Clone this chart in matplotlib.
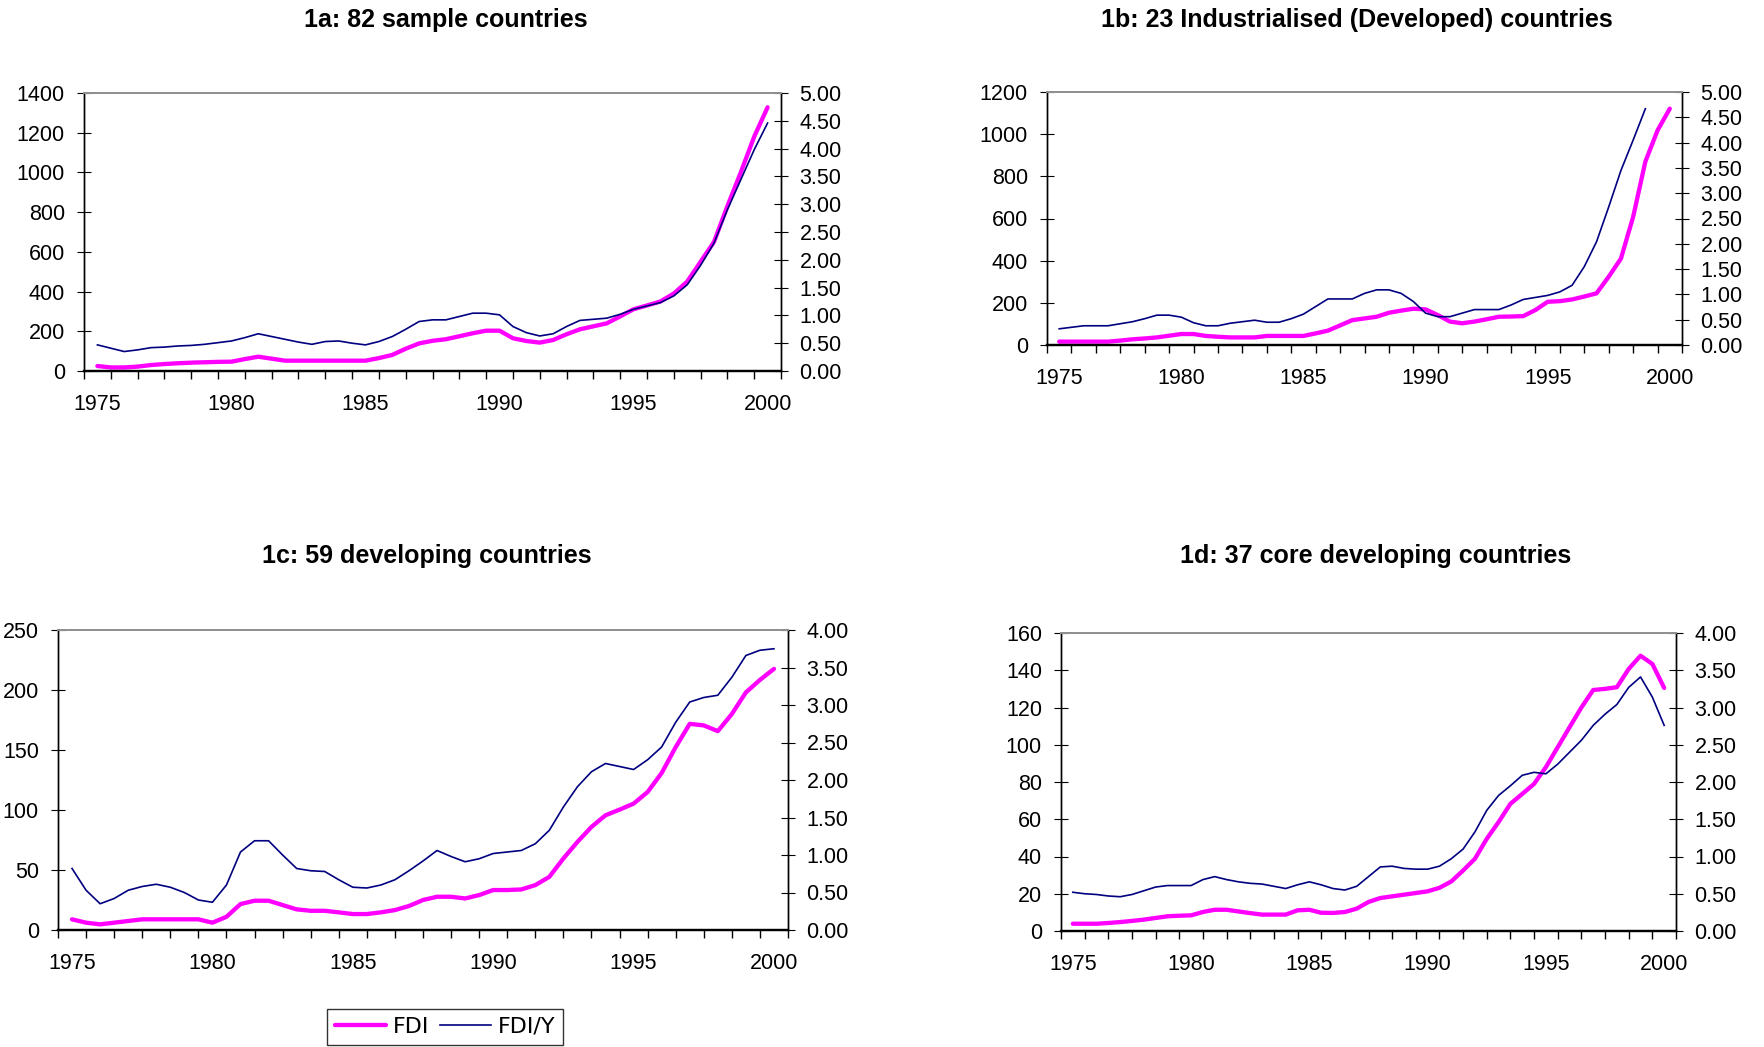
import numpy as np
import matplotlib
matplotlib.use("Agg")
import matplotlib.pyplot as plt

plt.rcParams['font.family'] = ['Liberation Sans', 'DejaVu Sans']

# half-year sample points, 1975 .. 2000
years = np.arange(1975, 2000.01, 0.5)

fdi_1a = [25, 18, 18, 22, 30, 35, 39, 42, 44, 46, 47, 60, 72, 62, 52, 52, 52, 52, 52, 52,
          52, 65, 81, 112, 139, 152, 160, 175, 190, 203, 203, 165, 151, 143, 156, 185, 210,
          225, 240, 275, 311, 330, 350, 390, 450, 550, 650, 830, 1000, 1180, 1328]
fdiy_1a = [0.47, 0.41, 0.35, 0.38, 0.42, 0.43, 0.45, 0.46, 0.48, 0.51, 0.54, 0.60, 0.67,
           0.62, 0.57, 0.52, 0.48, 0.53, 0.54, 0.50, 0.47, 0.53, 0.62, 0.75, 0.89, 0.92,
           0.92, 0.98, 1.04, 1.04, 1.01, 0.80, 0.69, 0.63, 0.67, 0.80, 0.91, 0.93, 0.95,
           1.02, 1.11, 1.17, 1.23, 1.35, 1.55, 1.90, 2.30, 2.90, 3.44, 3.98, 4.46]

fdi_1b = [16, 16, 16, 16, 16, 21, 27, 31, 36, 44, 52, 52, 43, 39, 36, 36, 36, 43, 43, 43,
          43, 55, 68, 93, 118, 126, 134, 153, 163, 172, 169, 142, 111, 103, 111, 122, 134,
          135, 137, 166, 205, 208, 216, 230, 245, 324, 410, 608, 870, 1018, 1121]
fdiy_1b = [0.32, 0.35, 0.38, 0.38, 0.38, 0.42, 0.46, 0.52, 0.59, 0.59, 0.55, 0.44, 0.38,
           0.38, 0.43, 0.46, 0.49, 0.45, 0.45, 0.52, 0.61, 0.76, 0.91, 0.91, 0.91, 1.02,
           1.09, 1.09, 1.02, 0.86, 0.63, 0.56, 0.56, 0.63, 0.70, 0.70, 0.70, 0.79, 0.90,
           0.94, 0.98, 1.05, 1.18, 1.55, 2.04, 2.73, 3.45, 4.05, 4.67, np.nan, np.nan]

fdi_1c = [8.9, 6.1, 4.7, 6.1, 7.5, 8.9, 8.9, 8.9, 8.9, 8.9, 6.1, 11, 21.6, 24.4, 24.4, 20.8,
          17.2, 16, 16, 14.7, 13.3, 13.3, 14.7, 16.6, 20, 25, 27.7, 27.7, 26.3, 29.1, 33.3,
          33.3, 33.8, 37.4, 44.3, 59.6, 73.4, 85.9, 95.6, 100.3, 105.3, 115, 130.8, 152.4,
          171.8, 170.5, 165.7, 180, 198, 208.4, 217.6]
fdiy_1c = [0.82, 0.53, 0.35, 0.42, 0.53, 0.58, 0.61, 0.57, 0.50, 0.40, 0.37, 0.60, 1.04,
           1.19, 1.19, 1.00, 0.82, 0.79, 0.78, 0.67, 0.57, 0.56, 0.60, 0.67, 0.79, 0.92,
           1.06, 0.98, 0.91, 0.95, 1.02, 1.04, 1.06, 1.15, 1.33, 1.64, 1.91, 2.11, 2.22,
           2.18, 2.14, 2.27, 2.44, 2.77, 3.04, 3.10, 3.13, 3.37, 3.66, 3.73, 3.75]

fdi_1d = [3.9, 3.9, 3.9, 4.3, 4.8, 5.4, 6.1, 7.0, 7.9, 8.2, 8.4, 10.2, 11.4, 11.4, 10.5, 9.6,
          8.8, 8.8, 8.8, 11.1, 11.4, 9.8, 9.7, 10.2, 12.0, 15.6, 17.7, 18.6, 19.5, 20.4, 21.3,
          23.2, 26.6, 32.5, 38.8, 49.5, 58.5, 68.3, 73.6, 79, 88, 98.7, 109.4, 120, 129.4,
          130, 130.9, 140.7, 147.8, 143.4, 130.5]
fdiy_1d = [0.52, 0.50, 0.49, 0.47, 0.46, 0.49, 0.54, 0.59, 0.61, 0.61, 0.61, 0.69, 0.73,
           0.69, 0.66, 0.64, 0.63, 0.60, 0.57, 0.62, 0.66, 0.62, 0.57, 0.55, 0.60, 0.73,
           0.86, 0.87, 0.84, 0.83, 0.83, 0.87, 0.97, 1.10, 1.33, 1.62, 1.82, 1.95, 2.09,
           2.13, 2.11, 2.24, 2.40, 2.56, 2.76, 2.91, 3.04, 3.27, 3.41, 3.14, 2.76]

titles = ["1a: 82 sample countries", "1b: 23 Industrialised (Developed) countries",
          "1c: 59 developing countries", "1d: 37 core developing countries"]
year_labels = [1975, 1980, 1985, 1990, 1995, 2000]

W, H = 1765, 1047
fig = plt.figure(figsize=(W / 100, H / 100), dpi=100)

# panel boxes in pixels: left, right, top, bottom
boxes = [(84, 781, 93, 371), (1047, 1682, 92, 345), (58, 788, 630, 930), (1061, 1676, 633, 931)]
title_pos = [(446, 20), (1357, 20), (427, 556), (1376, 556)]
left_max = [1400, 1200, 250, 160]
left_step = [200, 200, 50, 20]
right_max = [5.0, 5.0, 4.0, 4.0]
series = [(fdi_1a, fdiy_1a), (fdi_1b, fdiy_1b), (fdi_1c, fdiy_1c), (fdi_1d, fdiy_1d)]

for i in range(4):
    l, r, t, b = boxes[i]
    ax = fig.add_axes([l / W, 1 - b / H, (r - l) / W, (b - t) / H])
    ax2 = ax.twinx()
    fdi, fdiy = series[i]
    line1, = ax.plot(years, fdi, color='#FF00FF', linewidth=3.1, solid_capstyle='round')
    line2, = ax2.plot(years, fdiy, color='#000080', linewidth=1.2)

    ax.set_xlim(1974.5, 2000.5)
    ax.set_ylim(0, left_max[i])
    ax.set_yticks(np.arange(0, left_max[i] + 1, left_step[i]))
    rt = np.arange(0, right_max[i] + 0.01, 0.5)
    ax2.set_ylim(0, right_max[i])
    ax2.set_yticks(rt)
    ax2.set_yticklabels([f"{v:.2f}" for v in rt])

    ax.set_xticks(year_labels)
    ax.set_xticks(np.arange(1974.5, 2000.6, 1), minor=True)
    ax.tick_params(axis='x', which='major', length=0, pad=16.5, labelsize=15.5)
    ax.tick_params(axis='x', which='minor', length=5.5, direction='out', width=1)
    ax.tick_params(axis='y', length=10.5, direction='inout', labelsize=15.5, pad=8.5)
    ax2.tick_params(axis='y', length=10.5, direction='inout', labelsize=15.5, pad=8)

    for a in (ax, ax2):
        a.spines['top'].set_color('#909090')
        a.spines['top'].set_linewidth(1.4)
        a.spines['left'].set_linewidth(1.0)
        a.spines['right'].set_linewidth(1.0)
        a.spines['bottom'].set_linewidth(1.6)

    fig.text(title_pos[i][0] / W, 1 - title_pos[i][1] / H, titles[i], ha='center', va='center',
             fontsize=18, fontweight='bold')

leg = fig.legend([line1, line2], ['FDI', 'FDI/Y'], loc='upper left',
                 bbox_to_anchor=(327 / W, 1 - 1009 / H), borderaxespad=0, ncol=2,
                 frameon=True, fancybox=False, edgecolor='black', handlelength=2.3,
                 columnspacing=0.5, handletextpad=0.3, borderpad=0.35,
                 prop={'family': 'DejaVu Sans', 'size': 16})
leg.get_frame().set_linewidth(1.0)

fig.savefig("out.png", dpi=100)
